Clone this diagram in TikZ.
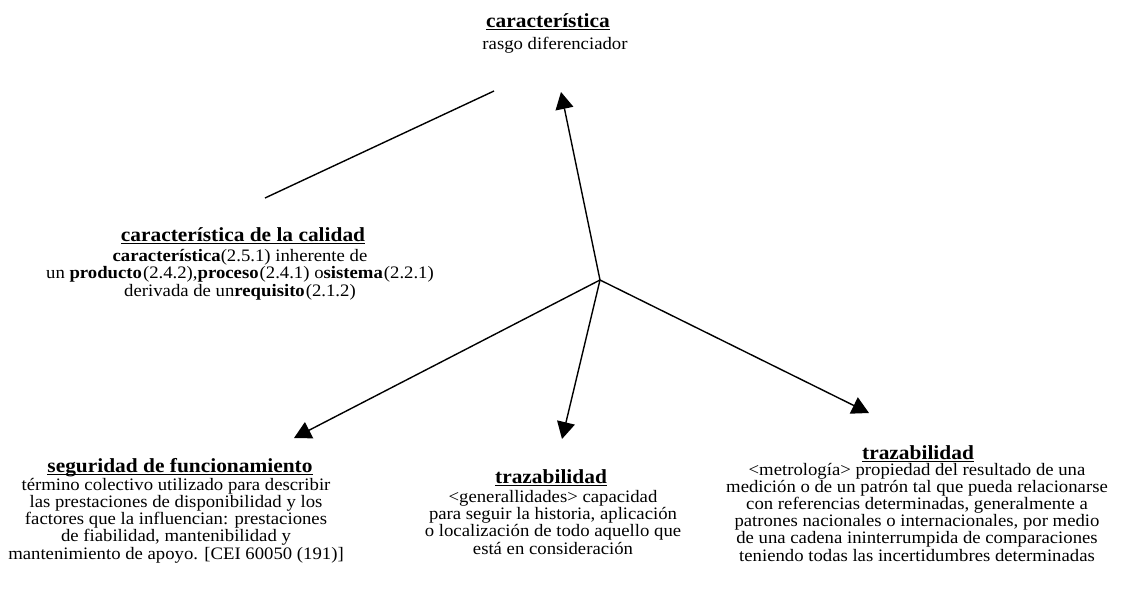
\documentclass[tikz,border=0pt]{standalone}
\usepackage{fontspec}
\setmainfont{Liberation Serif}[FakeStretch=1.07]
\usetikzlibrary{arrows.meta}

% underline drawn at a fixed depth below the baseline
\newcommand\termul[1]{\setbox0=\hbox{#1}\rlap{\rule[-3.2pt]{\wd0}{1.3pt}}\box0}

\begin{document}
\begin{tikzpicture}[x=1pt,y=-1pt,
  termtitle/.style={anchor=base,inner sep=0pt,
    font=\fontsize{20}{22}\selectfont\bfseries},
  % multi-line bodies are placed by the baseline of their last line
  termbody/.style={anchor=base,inner sep=0pt,align=center,
    font=\fontsize{17.5}{17.2}\selectfont},
  link/.style={line width=1.4pt},
  arrowlink/.style={link,-{Triangle[length=17pt,width=18pt]}}]
\useasboundingbox (0,0) rectangle (1126,600);

% general concept
\node[termtitle] (tCar) at (548,27) {\termul{característica}};
\node[termbody]  (bCar) at (555,49) {rasgo diferenciador};

% quality characteristic
\node[termtitle] (tCal) at (243,241) {\termul{característica de la calidad}};
\node[termbody]  (bCal) at (240,296)
  {\textbf{característica}(2.5.1) inherente de\\
   un \textbf{producto}\kern1pt(2.4.2),\textbf{proceso}\kern1pt(2.4.1) o\textbf{sistema}\kern1pt(2.2.1)\\
   derivada de un\textbf{requisito}\kern1pt(2.1.2)};

% dependability
\node[termtitle] (tSeg) at (180,472) {\termul{seguridad de funcionamiento}};
\node[termbody]  (bSeg) at (176,559)
  {término colectivo utilizado para describir\\
   las prestaciones de disponibilidad y los\\
   factores que la influencian: prestaciones\\
   de fiabilidad, mantenibilidad y\\
   mantenimiento de apoyo. [CEI 60050 (191)]};

% traceability, general sense
\node[termtitle] (tTr1) at (551,483) {\termul{trazabilidad}};
\node[termbody]  (bTr1) at (553,554)
  {<generallidades> capacidad\\
   para seguir la historia, aplicación\\
   o localización de todo aquello que\\
   está en consideración};

% traceability, metrology
\node[termtitle] (tTr2) at (918,459) {\termul{trazabilidad}};
\node[termbody]  (bTr2) at (917,561)
  {<metrología> propiedad del resultado de una\\
   medición o de un patrón tal que pueda relacionarse\\
   con referencias determinadas, generalmente a\\
   patrones nacionales o internacionales, por medio\\
   de una cadena ininterrumpida de comparaciones\\
   teniendo todas las incertidumbres determinadas};

% connector end points
\coordinate (hub)    at (600,280);
\coordinate (lineA)  at (265,198);
\coordinate (lineB)  at (494,91);
\coordinate (tipTop) at (561,92);
\coordinate (tipSeg) at (294,438);
\coordinate (tipTr1) at (562,439);
\coordinate (tipTr2) at (869,413);

\draw[link] (lineA) -- (lineB);
\draw[arrowlink] (hub) -- (tipTop);
\draw[arrowlink] (hub) -- (tipSeg);
\draw[arrowlink] (hub) -- (tipTr1);
\draw[arrowlink] (hub) -- (tipTr2);
\end{tikzpicture}
\end{document}
